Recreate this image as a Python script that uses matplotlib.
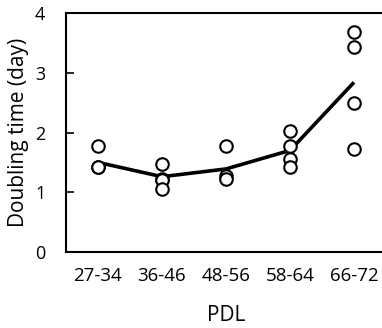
import matplotlib
matplotlib.use("Agg")
import matplotlib.pyplot as plt

categories = ["27-34", "36-46", "48-56", "58-64", "66-72"]
points = [
    [1.77, 1.42, 1.42],
    [1.48, 1.23, 1.20, 1.06],
    [1.77, 1.28, 1.22],
    [2.02, 1.77, 1.56, 1.42],
    [3.68, 3.43, 2.49, 1.73],
]
means = [1.50, 1.26, 1.39, 1.70, 2.84]

plt.rcParams['font.family'] = ['Open Sans', 'DejaVu Sans']
fig = plt.figure(figsize=(3.82, 3.28), dpi=100)
ax = fig.add_axes([66/382, 1-252/328, 320/382, 239/328])

ax.plot(range(len(categories)), means, color='black', lw=2.6, zorder=2, solid_capstyle='butt')
for i, vals in enumerate(points):
    ax.plot([i]*len(vals), vals, 'o', ms=9, mfc='white', mec='black', mew=1.5, ls='none', zorder=3)

ax.set_xlim(-0.5, 4.5)
ax.set_ylim(0, 4)
ax.set_yticks([0, 1, 2, 3, 4])
ax.set_xticks(range(len(categories)))
ax.set_xticklabels(categories)
ax.tick_params(axis='y', direction='in', length=6, width=1.2, labelsize=13, pad=15)
ax.tick_params(axis='x', length=0, labelsize=13.5, pad=11)
for s in ax.spines.values():
    s.set_linewidth(1.5)
ax.set_xlabel("PDL", fontsize=15, labelpad=14)
ax.set_ylabel("Doubling time (day)", fontsize=15, labelpad=4)

fig.savefig("out.png", dpi=100)
